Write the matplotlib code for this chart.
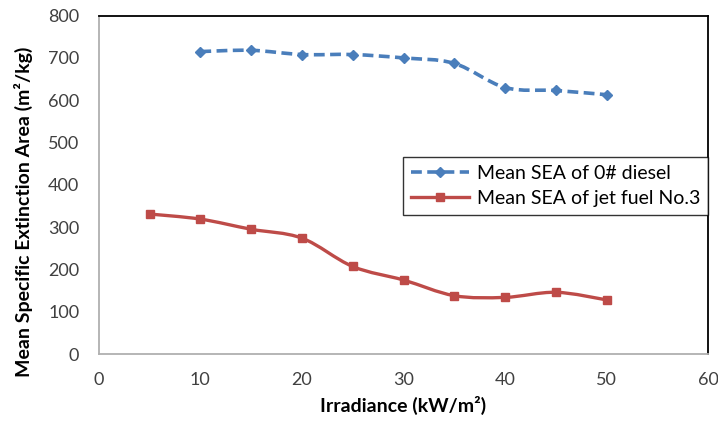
import numpy as np
from matplotlib import pyplot as plt
from matplotlib.path import Path
from matplotlib.patches import PathPatch
from matplotlib.lines import Line2D

# Data
irradiance_diesel = [10, 15, 20, 25, 30, 35, 40, 45, 50]
sea_diesel = [715, 718, 708, 708, 700, 687, 630, 623, 613]

irradiance_jet = [5, 10, 15, 20, 25, 30, 35, 40, 45, 50]
sea_jet = [331, 319, 295, 274, 207, 175, 138, 134, 146, 128]

x_ticks = [0, 10, 20, 30, 40, 50, 60]
y_ticks = [0, 100, 200, 300, 400, 500, 600, 700, 800]

plt.rcParams['font.family'] = ['Lato', 'DejaVu Sans']


def smooth_path(xs, ys, tension=1 / 6):
    # Excel-like smoothed line as cubic Bezier segments
    xs = np.asarray(xs, float)
    ys = np.asarray(ys, float)
    pts = np.column_stack([xs, ys])
    verts = [pts[0]]
    codes = [Path.MOVETO]
    n = len(pts)
    for i in range(n - 1):
        p0 = pts[max(i - 1, 0)]
        p1 = pts[i]
        p2 = pts[i + 1]
        p3 = pts[min(i + 2, n - 1)]
        c1 = p1 + (p2 - p0) * tension
        c2 = p2 - (p3 - p1) * tension
        verts += [c1, c2, p2]
        codes += [Path.CURVE4] * 3
    return Path(verts, codes)


fig = plt.figure(figsize=(7.18, 4.22), dpi=100)
ax = fig.add_axes([0.1375, 0.161, 0.849, 0.802])

blue = '#4a7ebb'
red = '#be4b48'

ax.add_patch(PathPatch(smooth_path(irradiance_diesel, sea_diesel), fill=False,
                       edgecolor=blue, lw=2.6, linestyle=(0, (3, 1.5)), zorder=3))
ax.plot(irradiance_diesel, sea_diesel, linestyle='none', marker='D', ms=5.5,
        color=blue, zorder=4)

ax.add_patch(PathPatch(smooth_path(irradiance_jet, sea_jet), fill=False,
                       edgecolor=red, lw=2.4, zorder=3))
ax.plot(irradiance_jet, sea_jet, linestyle='none', marker='s', ms=5.5,
        color=red, zorder=4)

ax.set_xlim(0, 60)
ax.set_ylim(0, 800)
ax.set_xticks(x_ticks)
ax.set_yticks(y_ticks)
ax.tick_params(length=0, labelsize=13, labelcolor='#404040')
ax.tick_params(axis='y', pad=14)
ax.tick_params(axis='x', pad=13)

ax.spines['left'].set_color('#b0b0b0')
ax.spines['bottom'].set_color('#b0b0b0')
ax.spines['top'].set_color('black')
ax.spines['right'].set_color('black')
for s in ax.spines.values():
    s.set_linewidth(1.3)

ax.set_xlabel('Irradiance (kW/m²)', fontsize=14, fontweight='bold', labelpad=6)
ax.set_ylabel('Mean Specific Extinction Area (m²/kg)', fontsize=14,
              fontweight='bold')
# Excel places the axis title a bit lower than the plot centre
ax.yaxis.set_label_coords(-0.108, 0.42)

handles = [
    Line2D([], [], color=blue, lw=2.6, linestyle=(0, (3, 1.5)), marker='D', ms=5.5),
    Line2D([], [], color=red, lw=2.4, marker='s', ms=5.5),
]
leg = ax.legend(handles, ['Mean SEA of 0# diesel', 'Mean SEA of jet fuel No.3'],
                loc='upper right', bbox_to_anchor=(1.0, 0.583), fontsize=14,
                frameon=True, fancybox=False, borderaxespad=0, handlelength=3.0,
                labelspacing=0.45, borderpad=0.4, handletextpad=0.4)
leg.get_frame().set_edgecolor('black')
leg.get_frame().set_linewidth(1.0)

fig.savefig('out.png', dpi=100)
